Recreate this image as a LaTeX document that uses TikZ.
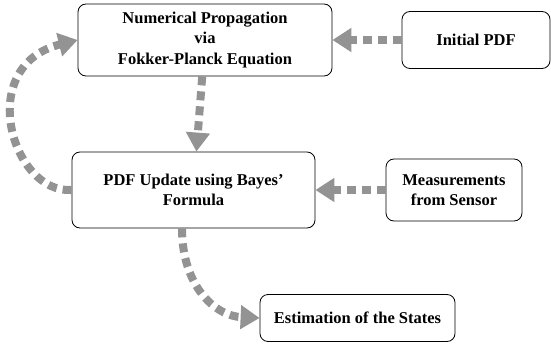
\documentclass[tikz,border=0pt]{standalone}
\usepackage{fontspec}
\setmainfont{Liberation Serif}
\usetikzlibrary{arrows.meta}
\tikzset{
  block/.style={draw, thick, rounded corners=8pt, align=center, font=\bfseries\fontsize{16.5}{20.5}\selectfont, inner sep=0pt},
  flow/.style={draw=gray!85, line width=8pt, dash pattern=on 9pt off 6pt, -{Triangle[length=19pt,width=23pt]}}
}
\begin{document}
\begin{tikzpicture}[x=1pt,y=1pt]
  \useasboundingbox (0,0) rectangle (551,346);
  \node [block, minimum width=254, minimum height=72] (prop) at (205,306) {Numerical Propagation\\via\\Fokker-Planck Equation};
  \node [block, minimum width=148, minimum height=57] (init) at (476,306) {Initial PDF};
  \node [block, minimum width=243, minimum height=76] (update) at (193.5,156) {PDF Update using Bayes'\\Formula};
  \node [block, minimum width=136, minimum height=62] (meas) at (454,156) {Measurements\\from Sensor};
  \node [block, minimum width=195, minimum height=47] (est) at (357.5,28) {Estimation of the States};

  \draw [flow] (init) -- (prop);
  \draw [flow] (prop) -- (update);
  \draw [flow] (meas) -- (update);
  \draw [flow] (update.west) .. controls (12,152) and (-26,280) .. (prop.west);
  \draw [flow] (update.south -| 182,0) .. controls (182,60) and (215,30) .. (est.west);
\end{tikzpicture}
\end{document}
